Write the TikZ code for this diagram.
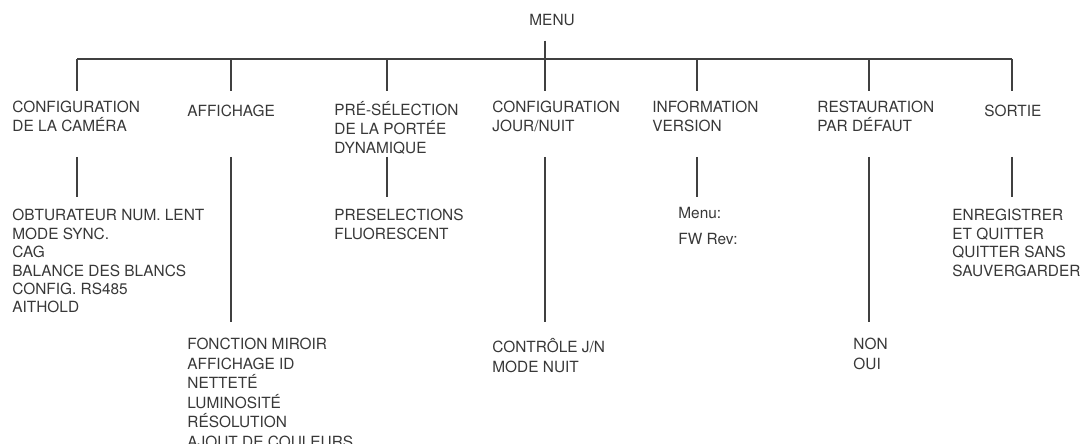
\documentclass[tikz,border=0pt]{standalone}
\usepackage{fontspec}
\setmainfont{TeX Gyre Heros}

\begin{document}
\begin{tikzpicture}[x=0.5pt, y=-0.5pt]
    % Define styles
    \tikzstyle{item} = [anchor=north west, inner sep=0pt, align=left, text=black!78, font=\fontsize{7.7}{9.2}\selectfont, execute at begin node={\rule{0pt}{7.5pt}}]
    \tikzstyle{head} = [item, font=\fontsize{7.7}{9.4}\selectfont]
    \tikzstyle{deep} = [item, font=\fontsize{7.7}{9.75}\selectfont]
    \tikzstyle{link} = [draw=black!75, line width=0.6pt]
    \tikzstyle{drop} = [link, shorten >=5pt]
    \tikzstyle{shortdrop} = [link, shorten >=6pt]
    \tikzstyle{longdrop} = [link, shorten >=8pt]

    \useasboundingbox (0,0) rectangle (1087,444);

    % Junctions
    \coordinate (j1) at (77,59);
    \coordinate (j2) at (231,59);
    \coordinate (j3) at (387,59);
    \coordinate (j4) at (545,59);
    \coordinate (j5) at (697,59);
    \coordinate (j6) at (869,59);
    \coordinate (j7) at (1012,59);
    \coordinate (row) at (0,157);

    % Nodes
    \node (menu) [item, anchor=base west] at (529,26) {MENU};
    \node (cam) [head] at (12,101) {CONFIGURATION\\DE LA CAMÉRA};
    \node (aff) [head] at (187,101) {AFFICHAGE};
    \node (pre) [head] at (334,101) {PRÉ-SÉLECTION\\DE LA PORTÉE\\DYNAMIQUE};
    \node (jn) [head] at (492,101) {CONFIGURATION\\JOUR/NUIT};
    \node (info) [head] at (652,101) {INFORMATION\\VERSION};
    \node (rest) [head] at (817,101) {RESTAURATION\\PAR DÉFAUT};
    \node (exit) [head] at (984,101) {SORTIE};

    \node (camsub) [item] at (12,209) {OBTURATEUR NUM. LENT\\MODE SYNC.\\CAG\\BALANCE DES BLANCS\\CONFIG. RS485\\AITHOLD};
    \node (affsub) [deep] at (187,338) {FONCTION MIROIR\\AFFICHAGE ID\\NETTETÉ\\LUMINOSITÉ\\RÉSOLUTION\\AJOUT DE COULEURS};
    \node (presub) [item] at (334,209) {PRESELECTIONS\\FLUORESCENT};
    \node (jnsub) [deep] at (492,338) {CONTRÔLE J/N\\MODE NUIT};
    \node (infosub) [item] at (678,207) {Menu:\\[3.8pt]FW Rev:};
    \node (restsub) [deep] at (853,338) {NON\\OUI};
    \node (exitsub) [item] at (952,209) {ENREGISTRER\\ET QUITTER\\QUITTER SANS\\SAUVERGARDER};

    % Lines
    \draw [link, shorten <=7pt] (j4 |- menu.south) -- (j4);
    \draw [link] (j1) -- (j7);
    \draw [drop] (j1) -- (j1 |- cam.north);
    \draw [drop] (j2) -- (j2 |- aff.north);
    \draw [drop] (j3) -- (j3 |- pre.north);
    \draw [drop] (j4) -- (j4 |- jn.north);
    \draw [drop] (j5) -- (j5 |- info.north);
    \draw [drop] (j6) -- (j6 |- rest.north);
    \draw [drop] (j7) -- (j7 |- exit.north);

    \draw [shortdrop] (j1 |- row) -- (j1 |- camsub.north);
    \draw [longdrop] (j2 |- row) -- (j2 |- affsub.north);
    \draw [shortdrop] (j3 |- row) -- (j3 |- presub.north);
    \draw [longdrop] (j4 |- row) -- (j4 |- jnsub.north);
    \draw [link, shorten >=5pt] (j5 |- row) -- (j5 |- infosub.north);
    \draw [longdrop] (j6 |- row) -- (j6 |- restsub.north);
    \draw [shortdrop] (j7 |- row) -- (j7 |- exitsub.north);
\end{tikzpicture}
\end{document}
